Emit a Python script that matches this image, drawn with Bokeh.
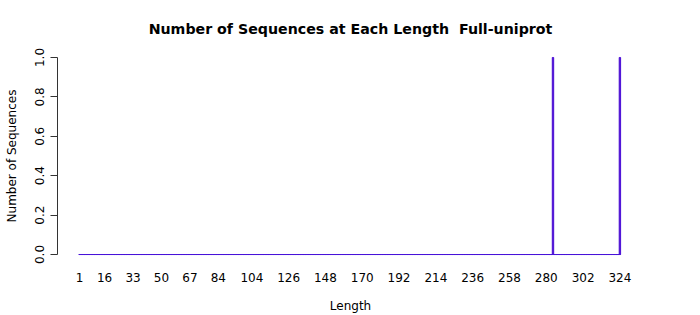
from bokeh.plotting import figure
from bokeh.models import FixedTicker, Range1d, NumeralTickFormatter
from bokeh.embed import file_html
from bokeh.resources import INLINE

# Data: sequence lengths 1..324, counts are zero except where listed
length_min = 1
length_max = 324
nonzero_lengths = [284, 324]
nonzero_counts = [1, 1]
x_tick_labels = [1, 16, 33, 50, 67, 84, 104, 126, 148, 170, 192, 214, 236, 258, 280, 302, 324]
y_ticks = [0.0, 0.2, 0.4, 0.6, 0.8, 1.0]

lengths = list(range(length_min, length_max + 1))
count_map = dict(zip(nonzero_lengths, nonzero_counts))
counts = [count_map.get(L, 0) for L in lengths]

FONT = "DejaVu Sans"

p = figure(width=700, height=315, output_backend="svg", toolbar_location=None,
           x_range=Range1d(-12.15, 338.1), y_range=Range1d(-0.0354, 1.0354),
           min_border_left=57, min_border_right=57, min_border_top=50, min_border_bottom=53,
           title="Number of Sequences at Each Length \u00a0Full-uniprot")

p.outline_line_color = None
p.xgrid.visible = False
p.ygrid.visible = False

p.title.align = "center"
p.title.text_font = FONT
p.title.text_font_size = "14.2px"
p.title.text_font_style = "bold"
p.title.text_color = "black"
p.title.standoff = 28

bw = 1 / 1.2
# baseline formed by zero-height bar borders
p.segment(x0=[lengths[0] - bw / 2], y0=[0], x1=[lengths[-1] + bw / 2], y1=[0],
          line_color="#3b3be0", line_width=1)
p.vbar(x=lengths, top=counts, bottom=0, width=bw,
       fill_color="#5000c0", line_color="#4a10d8", line_width=1)

xa = p.xaxis[0]
xa.ticker = FixedTicker(ticks=x_tick_labels)
xa.axis_line_color = None
xa.major_tick_line_color = None
xa.major_tick_out = 0
xa.major_tick_in = 0
xa.minor_tick_line_color = None
xa.major_label_text_font = FONT
xa.major_label_text_font_size = "12px"
xa.major_label_text_color = "black"
xa.major_label_standoff = 11
xa.axis_label = "Length"
xa.axis_label_text_font = FONT
xa.axis_label_text_font_size = "12px"
xa.axis_label_text_font_style = "normal"
xa.axis_label_text_color = "black"
xa.axis_label_standoff = 14

ya = p.yaxis[0]
ya.ticker = FixedTicker(ticks=y_ticks)
ya.formatter = NumeralTickFormatter(format="0.0")
ya.bounds = (0, 1)
ya.axis_line_color = "#333333"
ya.major_tick_line_color = "#333333"
ya.major_tick_out = 7
ya.major_tick_in = 0
ya.minor_tick_line_color = None
ya.major_label_orientation = "vertical"
ya.major_label_text_font = FONT
ya.major_label_text_font_size = "12px"
ya.major_label_text_color = "black"
ya.major_label_standoff = 6
ya.axis_label = "Number of Sequences"
ya.axis_label_text_font = FONT
ya.axis_label_text_font_size = "12px"
ya.axis_label_text_font_style = "normal"
ya.axis_label_text_color = "black"
ya.axis_label_standoff = 14

open("out.html", "w").write(file_html(p, INLINE))
